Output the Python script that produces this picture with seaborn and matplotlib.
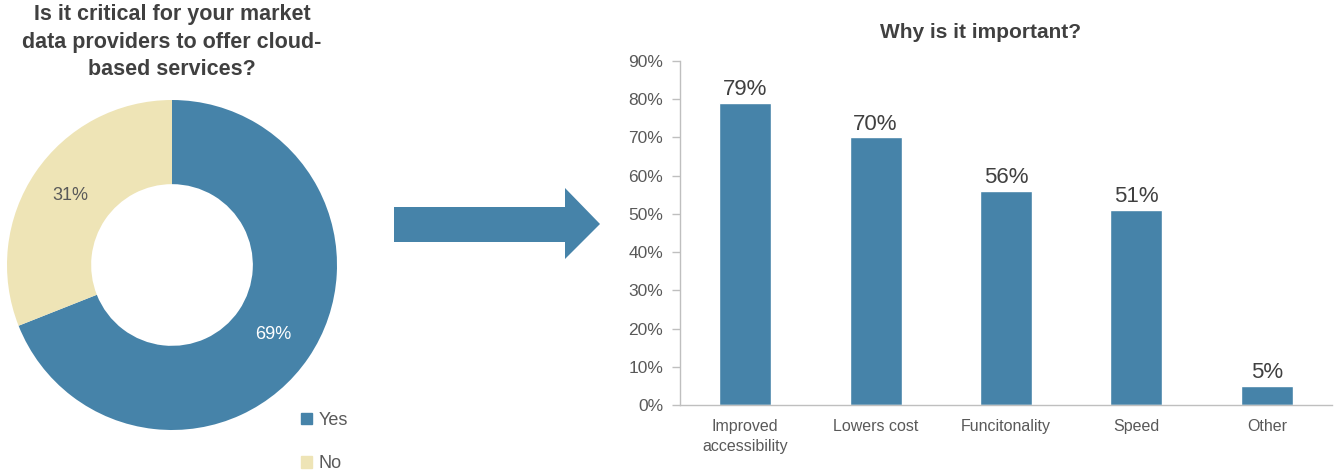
import matplotlib
matplotlib.use("Agg")
import matplotlib.pyplot as plt
import seaborn as sns
from matplotlib.patches import Polygon, Patch
from matplotlib.ticker import FuncFormatter, FixedLocator

# data
pie_labels = ["Yes", "No"]
pie_values = [69, 31]
reasons = ["Improved\naccessibility", "Lowers cost", "Funcitonality", "Speed", "Other"]
reason_values = [79, 70, 56, 51, 5]

BLUE = "#4683a9"
BEIGE = "#eee4b6"
GREY = "#595959"
DARK = "#404040"

sns.set_style("white")
plt.rcParams["font.family"] = ["Liberation Sans", "DejaVu Sans"]

W, H = 1342, 470
fig = plt.figure(figsize=(W / 100, H / 100), dpi=100)

# donut
ax1 = fig.add_axes([7 / W, (H - 430) / H, 330 / W, 330 / H])
wedges, texts, autotexts = ax1.pie(
    pie_values, colors=[BLUE, BEIGE], startangle=90, counterclock=False,
    radius=1, wedgeprops=dict(width=0.51, edgecolor="none"),
    autopct="%d%%", pctdistance=0.745,
    textprops=dict(fontsize=13, color=GREY),
)
autotexts[0].set_color("white")
ax1.set_xlim(-1, 1)
ax1.set_ylim(-1, 1)
ax1.set_aspect("equal")
fig.text(172 / W, 1 - 4 / H,
         "Is it critical for your market\ndata providers to offer cloud-\nbased services?",
         ha="center", va="top", fontsize=15.5, fontweight="bold", color=DARK,
         linespacing=1.42)

handles = [Patch(color=BLUE, label="Yes"), Patch(color=BEIGE, label="No")]
fig.legend(handles=handles, loc="upper left", bbox_to_anchor=(292 / W, 1 - 403 / H),
           frameon=False, handlelength=0.6, handleheight=0.6, handletextpad=0.35,
           labelspacing=1.45, fontsize=13, labelcolor=GREY, borderpad=0)

# arrow
axa = fig.add_axes([0, 0, 1, 1])
axa.set_xlim(0, W)
axa.set_ylim(H, 0)
axa.axis("off")
axa.add_patch(Polygon([(394, 207), (565, 207), (565, 188), (600, 224), (565, 259),
                       (565, 242), (394, 242)], closed=True, color=BLUE, lw=0))

# bar chart
ax2 = fig.add_axes([680 / W, (H - 405) / H, 652 / W, 344 / H])
sns.barplot(x=reasons, y=reason_values, color=BLUE, width=0.4, saturation=1, ax=ax2)
ax2.set_xlim(-0.5, len(reasons) - 0.5)
ax2.set_ylim(0, 90)
ax2.yaxis.set_major_locator(FixedLocator(range(0, 91, 10)))
ax2.yaxis.set_major_formatter(FuncFormatter(lambda v, p: f"{int(v)}%"))
ax2.set_xticks([i - 0.5 for i in range(len(reasons) + 1)], minor=True)
ax2.tick_params(axis="x", which="major", length=0, pad=10, labelsize=11.5, labelcolor=GREY)
ax2.tick_params(axis="x", which="minor", length=6, color="#bfbfbf", width=1, direction="out")
ax2.tick_params(axis="y", length=6, color="#bfbfbf", width=1, direction="out",
                labelsize=12.5, labelcolor=GREY, pad=6, left=True)
for lbl in ax2.get_xticklabels():
    lbl.set_linespacing(1.45)
for s in ["top", "right"]:
    ax2.spines[s].set_visible(False)
for s in ["left", "bottom"]:
    ax2.spines[s].set_color("#bfbfbf")
    ax2.spines[s].set_linewidth(1)
ax2.set_xlabel("")
ax2.set_ylabel("")
for c in ax2.containers:
    ax2.bar_label(c, labels=[f"{v}%" for v in reason_values], padding=2,
                  fontsize=16, color=DARK)
fig.text(981 / W, 1 - 33 / H, "Why is it important?", ha="center", va="center",
         fontsize=15, fontweight="bold", color=DARK)

fig.savefig("out.png", dpi=100)
